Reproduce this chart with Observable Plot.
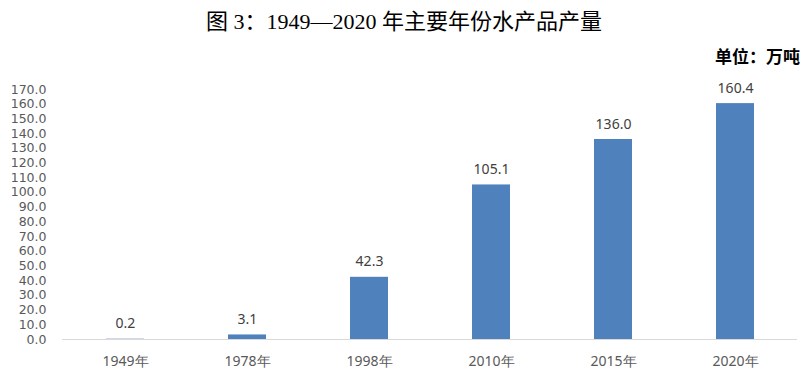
<!DOCTYPE html>
<html><head><meta charset="utf-8">
<script src="https://cdn.jsdelivr.net/npm/d3@7"></script>
<script src="https://cdn.jsdelivr.net/npm/@observablehq/plot@0.6"></script>
<style>
body{margin:0;background:#fff;width:808px;height:379px;overflow:hidden;}
#title{height:42px;line-height:44px;text-align:center;font-family:"Liberation Serif","Noto Sans CJK SC",serif;font-size:22px;color:#000;}
#unit{height:28px;line-height:32px;text-align:right;padding-right:8px;font-family:"Liberation Serif","Noto Sans CJK SC",serif;font-size:17px;font-weight:bold;color:#000;}
</style></head>
<body>
<div id="title">图 3：1949—2020 年主要年份水产品产量</div>
<div id="unit">单位：万吨</div>
<div id="chart"></div>
<script>
const years = ["1949年","1978年","1998年","2010年","2015年","2020年"];
const values = [0.2, 3.1, 42.3, 105.1, 136.0, 160.4];
const yTicks = d3.range(0, 171, 10);
const data = years.map((y, i) => ({year: y, value: values[i]}));
const chart = Plot.plot({
  width: 808, height: 309,
  marginTop: 19, marginBottom: 40, marginLeft: 62, marginRight: 11,
  style: {fontFamily: "'Noto Sans', sans-serif", background: "#fff"},
  x: {domain: years, paddingInner: 0.69, paddingOuter: 0.345, align: 0.5, label: null},
  y: {domain: [0, 170], label: null},
  marks: [
    Plot.axisY({ticks: yTicks, tickFormat: d => d.toFixed(1), tickSize: 0, tickPadding: 16, fontSize: 12.5, fontFamily: "'DejaVu Sans', sans-serif", fill: "#595959"}),
    Plot.axisX({tickSize: 0, tickPadding: 17, fontSize: 14, fill: "#595959"}),
    Plot.barY(data, {x: "year", y: "value", fill: "#4f81bd"}),
    Plot.ruleY([0], {stroke: "#d9d9d9", strokeWidth: 1}),
    Plot.text(data, {x: "year", y: "value", text: d => d.value.toFixed(1), dy: -11, lineAnchor: "bottom", fontSize: 14, fill: "#404040"})
  ]
});
document.getElementById("chart").append(chart);
</script>
</body></html>
